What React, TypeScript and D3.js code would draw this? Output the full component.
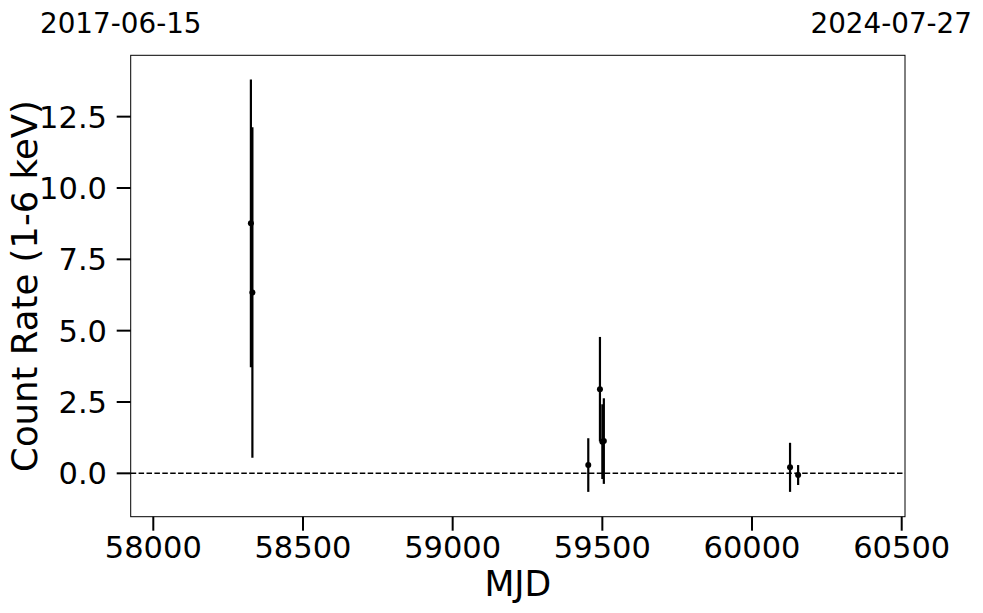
import React from 'react';
import * as d3 from 'd3';

// light curve points
const mjd = [58326, 58331, 59453, 59492, 59500, 59505, 60127, 60154];
const rate = [8.76, 6.34, 0.29, 2.95, 1.11, 1.13, 0.21, -0.06];
const rateErr = [5.04, 5.79, 0.94, 1.83, 1.31, 1.5, 0.86, 0.35];

const xTicks = [58000, 58500, 59000, 59500, 60000, 60500];
const yTicks = [0, 2.5, 5, 7.5, 10, 12.5];
const dateLabels = ['2017-06-15', '2024-07-27'];

const W = 983;
const H = 613;
const font = 'DejaVu Sans, sans-serif';
const tickSize = 30.5;

const App: React.FC = () => {
  const left = 130.7, right = 905, top = 55.3, bottom = 516.7;

  const x = d3.scaleLinear().domain([57924.5, 60511]).range([left, right]);
  const y = d3.scaleLinear().domain([-1.52, 14.65]).range([bottom, top]);

  const points = mjd.map((m, i) => ({ m, r: rate[i], e: rateErr[i] }));

  return (
    <div style={{ position: 'absolute', left: 0, top: 0 }}>
      <svg width={W} height={H} style={{ display: 'block', background: '#fff' }}>
        {/* zero line */}
        <line
          x1={left} x2={right} y1={y(0)} y2={y(0)}
          stroke="#000" strokeWidth={1.5} strokeDasharray="5.5,2.4"
        />

        {/* error bars + points */}
        {points.map((p, i) => (
          <g key={i}>
            <line
              x1={x(p.m)} x2={x(p.m)} y1={y(p.r - p.e)} y2={y(p.r + p.e)}
              stroke="#000" strokeWidth={2.2}
            />
            <circle cx={x(p.m)} cy={y(p.r)} r={3} fill="#000" />
          </g>
        ))}

        {/* frame */}
        <rect x={left} y={top} width={right - left} height={bottom - top}
          fill="none" stroke="#000" strokeWidth={1} />

        {/* x axis */}
        {xTicks.map(t => (
          <g key={t}>
            <line x1={x(t)} x2={x(t)} y1={bottom} y2={bottom + 14} stroke="#000" strokeWidth={2} />
            <text x={x(t)} y={558} textAnchor="middle" fontFamily={font} fontSize={tickSize}>{t}</text>
          </g>
        ))}
        <text x={(left + right) / 2} y={596} textAnchor="middle" fontFamily={font} fontSize={34.7}>MJD</text>

        {/* y axis */}
        {yTicks.map(t => (
          <g key={t}>
            <line x1={left - 14} x2={left} y1={y(t)} y2={y(t)} stroke="#000" strokeWidth={2} />
            <text x={107} y={y(t)} dy="0.36em" textAnchor="end" fontFamily={font} fontSize={tickSize}>
              {t.toFixed(1)}
            </text>
          </g>
        ))}
        <text
          transform={`translate(37,${(top + bottom) / 2}) rotate(-90)`}
          textAnchor="middle" fontFamily={font} fontSize={35.5}
        >
          Count Rate (1-6 keV)
        </text>

        {/* date labels above the frame */}
        <text x={40} y={33} fontFamily={font} fontSize={27.8}>{dateLabels[0]}</text>
        <text x={972} y={33} textAnchor="end" fontFamily={font} fontSize={27.8}>{dateLabels[1]}</text>
      </svg>
    </div>
  );
};

export default App;
